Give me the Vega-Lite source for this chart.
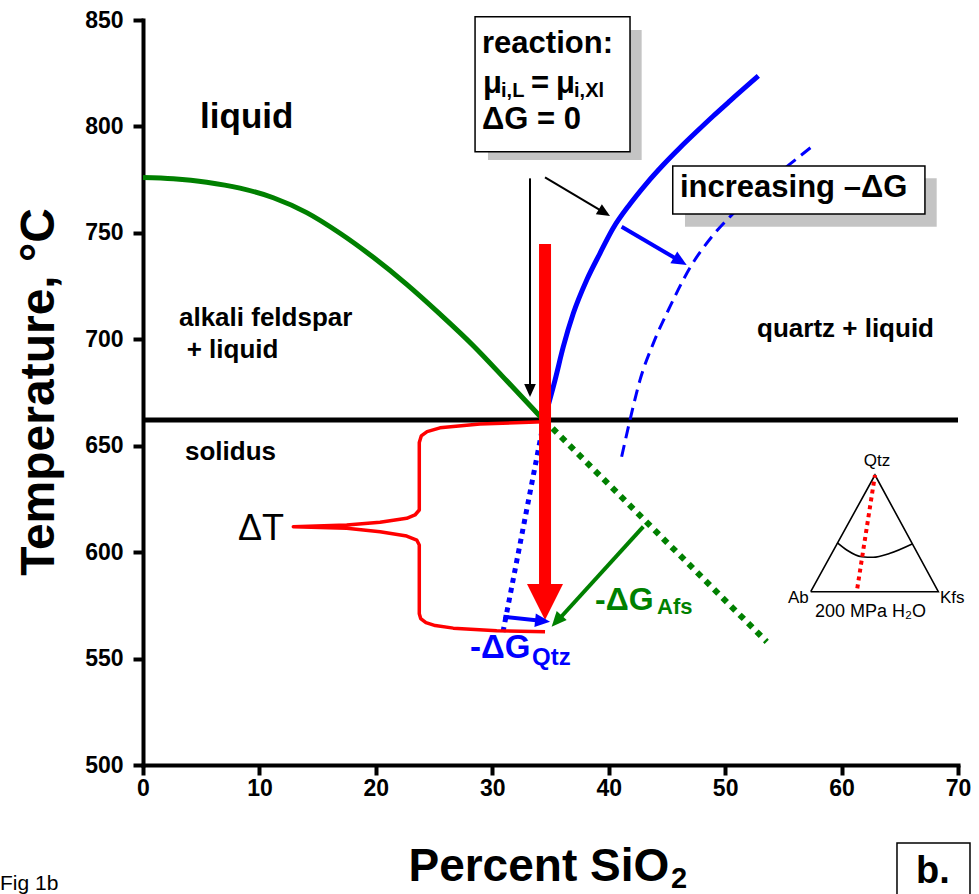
{
  "$schema": "https://vega.github.io/schema/vega-lite/v6.json",
  "width": 815,
  "height": 745,
  "autosize": {"type": "none"},
  "padding": {"left": 143, "top": 20, "right": 21, "bottom": 129},
  "background": "white",
  "config": {"view": {"stroke": null}, "font": "Liberation Sans"},
  "datasets": {
    "solidus": [{"x": 0, "y": 662.08, "x2": 70, "y2": 662.08}],
    "liquidusAfs": [
      {"x": 0, "y": 776.0}, {"x": 2.6, "y": 775.4}, {"x": 5.47, "y": 773.8}, {"x": 8.33, "y": 771.0},
      {"x": 11.19, "y": 766.5}, {"x": 14.06, "y": 759.5}, {"x": 16.92, "y": 749.8}, {"x": 19.78, "y": 738.5},
      {"x": 22.65, "y": 725.8}, {"x": 25.51, "y": 711.8}, {"x": 28.37, "y": 697.0}, {"x": 31.24, "y": 680.5},
      {"x": 34.4, "y": 662.1}
    ],
    "afsDotted": [{"x": 34.45, "y": 662.1}, {"x": 53.57, "y": 557.9}],
    "liquidusQtz": [
      {"x": 34.45, "y": 662.08}, {"x": 35.39, "y": 680.87}, {"x": 36.1, "y": 696.51}, {"x": 36.96, "y": 712.2},
      {"x": 38.11, "y": 727.85}, {"x": 39.25, "y": 740.39}, {"x": 40.39, "y": 752.28}, {"x": 41.83, "y": 763.56},
      {"x": 43.26, "y": 773.3}, {"x": 44.69, "y": 782.0}, {"x": 46.12, "y": 790.0}, {"x": 47.56, "y": 797.6},
      {"x": 48.98, "y": 804.9}, {"x": 50.42, "y": 812.0}, {"x": 52.85, "y": 823.7}
    ],
    "qtzDashed": [
      {"x": 41.11, "y": 644.8}, {"x": 41.83, "y": 662.1}, {"x": 42.69, "y": 680.9}, {"x": 43.83, "y": 698.1},
      {"x": 45.26, "y": 715.3}, {"x": 46.98, "y": 733.6}, {"x": 48.87, "y": 748.3}, {"x": 50.42, "y": 757.6},
      {"x": 52.99, "y": 770.4}, {"x": 55.48, "y": 781.9}, {"x": 57.52, "y": 790.8}
    ],
    "qtzDotted": [{"x": 34.45, "y": 662.1}, {"x": 30.92, "y": 562.5}],
    "brace": [
      {"i": 1, "x": 34.38, "y": 661.28}, {"i": 2, "x": 28.94, "y": 660.2}, {"i": 3, "x": 25.51, "y": 658.4},
      {"i": 4, "x": 24.4, "y": 656.6}, {"i": 5, "x": 23.9, "y": 654.6}, {"i": 6, "x": 23.73, "y": 651.5}, {"i": 7, "x": 23.73, "y": 619.8},
      {"i": 8, "x": 23.36, "y": 617.45}, {"i": 9, "x": 22.65, "y": 615.9}, {"i": 10, "x": 20.36, "y": 614.02},
      {"i": 11, "x": 17.5, "y": 612.75}, {"i": 12, "x": 12.91, "y": 611.95}, {"i": 13, "x": 17.5, "y": 611.2},
      {"i": 14, "x": 20.36, "y": 609.6}, {"i": 15, "x": 22.65, "y": 607.58}, {"i": 16, "x": 23.51, "y": 605.7},
      {"i": 17, "x": 23.73, "y": 603.35}, {"i": 18, "x": 23.73, "y": 571.0}, {"i": 19, "x": 23.85, "y": 568.8},
      {"i": 20, "x": 24.3, "y": 566.9}, {"i": 21, "x": 25.1, "y": 565.5}, {"i": 22, "x": 26.65, "y": 564.3}, {"i": 23, "x": 30.38, "y": 563.09},
      {"i": 24, "x": 34.53, "y": 562.62}
    ],
    "redShaft": [{"x": 34.53, "y": 744.8, "x2": 34.53, "y2": 583.0}],
    "redHead": [{"x": 34.53, "y": 568.1}],
    "blackShafts": [
      {"x": 33.24, "y": 775.6, "x2": 33.24, "y2": 675.7},
      {"x": 34.53, "y": 776.1, "x2": 39.66, "y2": 759.4}
    ],
    "blackHeadDown": [{"x": 33.24, "y": 672.9}],
    "blackHeadDiag": [{"x": 40.11, "y": 757.9}],
    "blueShafts": [
      {"x": 41.11, "y": 752.9, "x2": 46.18, "y2": 736.6},
      {"x": 30.95, "y": 569.7, "x2": 34.36, "y2": 567.65}
    ],
    "blueHeadDiag": [{"x": 46.7, "y": 734.9}],
    "blueHeadSmall": [{"x": 34.96, "y": 567.3}],
    "greenShaft": [{"x": 42.97, "y": 611.95, "x2": 35.53, "y2": 567.3}],
    "greenHead": [{"x": 35.1, "y": 565.0}],
    "triangle": [
      {"i": 0, "x": 57.35, "y": 581.42}, {"i": 1, "x": 62.87, "y": 636.24},
      {"i": 2, "x": 68.31, "y": 581.42}, {"i": 3, "x": 57.35, "y": 581.42}
    ],
    "cotectic": [
      {"x": 59.62, "y": 604.44}, {"x": 60.44, "y": 601.0}, {"x": 61.73, "y": 597.86},
      {"x": 62.72, "y": 597.58}, {"x": 64.16, "y": 599.46}, {"x": 66.06, "y": 603.83}
    ],
    "insetRed": [{"x": 62.87, "y": 636.24}, {"x": 61.35, "y": 583.0}],
    "shadows": [
      {"x": 29.63, "x2": 42.83, "y": 845.3, "y2": 784.2},
      {"x": 46.55, "x2": 68.17, "y": 775.6, "y2": 752.9}
    ],
    "boxes": [
      {"x": 28.52, "x2": 41.83, "y": 851.5, "y2": 788.1},
      {"x": 45.5, "x2": 67.16, "y": 781.4, "y2": 758.9},
      {"x": 64.76, "x2": 71.03, "y": 463.4, "y2": 437.9}
    ],
    "labels26": [
      {"x": 3.09, "y": 706.2, "t": "alkali feldspar"},
      {"x": 3.75, "y": 691.07, "t": "+ liquid"},
      {"x": 3.61, "y": 643.29, "t": "solidus"},
      {"x": 52.74, "y": 701.21, "t": "quartz + liquid"}
    ],
    "labelLiquid": [{"x": 4.9, "y": 799.26, "t": "liquid"}],
    "labelDT": [{"x": 8.16, "y": 605.7, "t": "ΔT"}],
    "labelsBox": [
      {"x": 29.12, "y": 834.49, "t": "reaction:"},
      {"x": 29.2, "y": 815.7, "t": "μ"},
      {"x": 33.32, "y": 815.7, "t": "="},
      {"x": 35.47, "y": 815.7, "t": "μ"},
      {"x": 29.12, "y": 798.79, "t": "ΔG = 0"},
      {"x": 46.12, "y": 766.7, "t": "increasing –ΔG"}
    ],
    "labelsSub": [
      {"x": 30.75, "y": 813.82, "t": "i,L"},
      {"x": 37.02, "y": 813.82, "t": "i,Xl"}
    ],
    "blueDG": [{"x": 28.09, "y": 550.13, "t": "-ΔG"}],
    "blueSub": [{"x": 33.41, "y": 546.98, "t": "Qtz"}],
    "greenDG": [{"x": 38.82, "y": 572.82, "t": "-ΔG"}],
    "greenSub": [{"x": 44.15, "y": 570.94, "t": "Afs"}],
    "insetCenter": [{"x": 63.04, "y": 640.47, "t": "Qtz"}],
    "insetLeft": [
      {"x": 55.4, "y": 576.11, "t": "Ab"},
      {"x": 68.45, "y": 576.11, "t": "Kfs"}
    ],
    "insetPressure": [{"x": 57.72, "y": 569.53, "t": "200 MPa H₂O"}],
    "panel": [{"x": 67.85, "y": 444.56, "t": "b."}],
    "fig": [{"x": -12.28, "y": 441.3, "t": "Fig 1b"}],
    "xTitle": [{"x": 22.8, "y": 445.5, "t": "Percent SiO"}],
    "xTitleSub": [{"x": 45.35, "y": 442.2, "t": "2"}],
    "yTitle": [{"x": -8.85, "y": 675.23, "t": "Temperature, °C"}]
  },
  "encoding": {
    "x": {
      "field": "x", "type": "quantitative",
      "scale": {"domain": [0, 70], "nice": false, "zero": false},
      "axis": {
        "title": null, "values": [0, 10, 20, 30, 40, 50, 60, 70], "grid": false,
        "domainColor": "black", "domainWidth": 4, "domainCap": "square",
        "tickColor": "black", "tickWidth": 4, "tickSize": 10,
        "labelFont": "Liberation Sans", "labelFontSize": 23, "labelFontWeight": "bold",
        "labelColor": "black", "labelPadding": 2, "labelFlush": false
      }
    },
    "y": {
      "field": "y", "type": "quantitative",
      "scale": {"domain": [500, 850], "nice": false, "zero": false},
      "axis": {
        "title": null, "values": [500, 550, 600, 650, 700, 750, 800, 850], "grid": false,
        "domainColor": "black", "domainWidth": 4, "domainCap": "square",
        "tickColor": "black", "tickWidth": 4, "tickSize": 10,
        "labelFont": "Liberation Sans", "labelFontSize": 23, "labelFontWeight": "bold",
        "labelColor": "black", "labelPadding": 10, "labelFlush": false
      }
    }
  },
  "layer": [
    {"data": {"name": "shadows"}, "mark": {"type": "rect", "fill": "#c4c4c4"},
     "encoding": {"x2": {"field": "x2"}, "y2": {"field": "y2"}}},
    {"data": {"name": "solidus"}, "mark": {"type": "rule", "color": "black", "strokeWidth": 5},
     "encoding": {"x2": {"field": "x2"}, "y2": {"field": "y2"}}},
    {"data": {"name": "liquidusAfs"}, "mark": {"type": "line", "color": "#008000", "strokeWidth": 5, "interpolate": "monotone"}, "encoding": {}},
    {"data": {"name": "afsDotted"}, "mark": {"type": "line", "color": "#008000", "strokeWidth": 6, "strokeDash": [6, 6]}, "encoding": {}},
    {"data": {"name": "liquidusQtz"}, "mark": {"type": "line", "color": "#0000ff", "strokeWidth": 5, "interpolate": "monotone"}, "encoding": {}},
    {"data": {"name": "qtzDashed"}, "mark": {"type": "line", "color": "#0000ff", "strokeWidth": 3, "strokeDash": [12, 7], "interpolate": "monotone"}, "encoding": {}},
    {"data": {"name": "qtzDotted"}, "mark": {"type": "line", "color": "#0000ff", "strokeWidth": 5, "strokeDash": [5, 5]}, "encoding": {}},
    {"data": {"name": "brace"}, "mark": {"type": "line", "color": "#ff0000", "strokeWidth": 3.5, "strokeJoin": "round"},
     "encoding": {"order": {"field": "i", "type": "quantitative"}}},
    {"data": {"name": "redShaft"}, "mark": {"type": "rule", "color": "#ff0000", "strokeWidth": 12},
     "encoding": {"x2": {"field": "x2"}, "y2": {"field": "y2"}}},
    {"data": {"name": "redHead"}, "mark": {"type": "point", "shape": "M0,0L-0.5,1L0.5,1Z", "filled": true, "color": "#ff0000", "opacity": 1, "size": 5184, "angle": 180, "strokeWidth": 0}, "encoding": {}},
    {"data": {"name": "blackShafts"}, "mark": {"type": "rule", "color": "black", "strokeWidth": 2},
     "encoding": {"x2": {"field": "x2"}, "y2": {"field": "y2"}}},
    {"data": {"name": "blackHeadDown"}, "mark": {"type": "point", "shape": "M0,0L-0.45,1L0.45,1Z", "filled": true, "color": "black", "opacity": 1, "size": 676, "angle": 180, "strokeWidth": 0}, "encoding": {}},
    {"data": {"name": "blackHeadDiag"}, "mark": {"type": "point", "shape": "M0,0L-0.45,1L0.45,1Z", "filled": true, "color": "black", "opacity": 1, "size": 676, "angle": 121, "strokeWidth": 0}, "encoding": {}},
    {"data": {"name": "blueShafts"}, "mark": {"type": "rule", "color": "#0000ff", "strokeWidth": 4},
     "encoding": {"x2": {"field": "x2"}, "y2": {"field": "y2"}}},
    {"data": {"name": "blueHeadDiag"}, "mark": {"type": "point", "shape": "M0,0L-0.45,1L0.45,1Z", "filled": true, "color": "#0000ff", "opacity": 1, "size": 900, "angle": 120.5, "strokeWidth": 0}, "encoding": {}},
    {"data": {"name": "blueHeadSmall"}, "mark": {"type": "point", "shape": "M0,0L-0.45,1L0.45,1Z", "filled": true, "color": "#0000ff", "opacity": 1, "size": 900, "angle": 96, "strokeWidth": 0}, "encoding": {}},
    {"data": {"name": "greenShaft"}, "mark": {"type": "rule", "color": "#008000", "strokeWidth": 4},
     "encoding": {"x2": {"field": "x2"}, "y2": {"field": "y2"}}},
    {"data": {"name": "greenHead"}, "mark": {"type": "point", "shape": "M0,0L-0.45,1L0.45,1Z", "filled": true, "color": "#008000", "opacity": 1, "size": 900, "angle": 222, "strokeWidth": 0}, "encoding": {}},
    {"data": {"name": "triangle"}, "mark": {"type": "line", "color": "black", "strokeWidth": 1.6, "strokeJoin": "miter"},
     "encoding": {"order": {"field": "i", "type": "quantitative"}}},
    {"data": {"name": "cotectic"}, "mark": {"type": "line", "color": "black", "strokeWidth": 1.6, "interpolate": "monotone"}, "encoding": {}},
    {"data": {"name": "insetRed"}, "mark": {"type": "line", "color": "#ff0000", "strokeWidth": 4, "strokeDash": [4, 4]}, "encoding": {}},
    {"data": {"name": "boxes"}, "mark": {"type": "rect", "fill": "white", "stroke": "black", "strokeWidth": 1.5},
     "encoding": {"x2": {"field": "x2"}, "y2": {"field": "y2"}}},
    {"data": {"name": "labels26"}, "mark": {"type": "text", "align": "left", "baseline": "alphabetic", "font": "Liberation Sans", "fontSize": 26, "fontWeight": "bold", "color": "black"},
     "encoding": {"text": {"field": "t"}}},
    {"data": {"name": "labelLiquid"}, "mark": {"type": "text", "align": "left", "baseline": "alphabetic", "font": "Liberation Sans", "fontSize": 35, "fontWeight": "bold", "color": "black"},
     "encoding": {"text": {"field": "t"}}},
    {"data": {"name": "labelDT"}, "mark": {"type": "text", "align": "left", "baseline": "alphabetic", "font": "Liberation Sans", "fontSize": 36, "color": "black"},
     "encoding": {"text": {"field": "t"}}},
    {"data": {"name": "labelsBox"}, "mark": {"type": "text", "align": "left", "baseline": "alphabetic", "font": "Liberation Sans", "fontSize": 31, "fontWeight": "bold", "color": "black"},
     "encoding": {"text": {"field": "t"}}},
    {"data": {"name": "labelsSub"}, "mark": {"type": "text", "align": "left", "baseline": "alphabetic", "font": "Liberation Sans", "fontSize": 20, "fontWeight": "bold", "color": "black"},
     "encoding": {"text": {"field": "t"}}},
    {"data": {"name": "blueDG"}, "mark": {"type": "text", "align": "left", "baseline": "alphabetic", "font": "Liberation Sans", "fontSize": 33, "fontWeight": "bold", "color": "#0000ff"},
     "encoding": {"text": {"field": "t"}}},
    {"data": {"name": "blueSub"}, "mark": {"type": "text", "align": "left", "baseline": "alphabetic", "font": "Liberation Sans", "fontSize": 24, "fontWeight": "bold", "color": "#0000ff"},
     "encoding": {"text": {"field": "t"}}},
    {"data": {"name": "greenDG"}, "mark": {"type": "text", "align": "left", "baseline": "alphabetic", "font": "Liberation Sans", "fontSize": 32, "fontWeight": "bold", "color": "#008000"},
     "encoding": {"text": {"field": "t"}}},
    {"data": {"name": "greenSub"}, "mark": {"type": "text", "align": "left", "baseline": "alphabetic", "font": "Liberation Sans", "fontSize": 22, "fontWeight": "bold", "color": "#008000"},
     "encoding": {"text": {"field": "t"}}},
    {"data": {"name": "insetCenter"}, "mark": {"type": "text", "align": "center", "baseline": "alphabetic", "font": "Liberation Sans", "fontSize": 17, "color": "black"},
     "encoding": {"text": {"field": "t"}}},
    {"data": {"name": "insetLeft"}, "mark": {"type": "text", "align": "left", "baseline": "alphabetic", "font": "Liberation Sans", "fontSize": 17, "color": "black"},
     "encoding": {"text": {"field": "t"}}},
    {"data": {"name": "insetPressure"}, "mark": {"type": "text", "align": "left", "baseline": "alphabetic", "font": "Liberation Sans", "fontSize": 18, "color": "black"},
     "encoding": {"text": {"field": "t"}}},
    {"data": {"name": "panel"}, "mark": {"type": "text", "align": "center", "baseline": "alphabetic", "font": "Liberation Sans", "fontSize": 38, "fontWeight": "bold", "color": "black"},
     "encoding": {"text": {"field": "t"}}},
    {"data": {"name": "fig"}, "mark": {"type": "text", "align": "left", "baseline": "alphabetic", "font": "Liberation Sans", "fontSize": 21, "color": "black"},
     "encoding": {"text": {"field": "t"}}},
    {"data": {"name": "xTitle"}, "mark": {"type": "text", "align": "left", "baseline": "alphabetic", "font": "Liberation Sans", "fontSize": 46, "fontWeight": "bold", "color": "black"},
     "encoding": {"text": {"field": "t"}}},
    {"data": {"name": "xTitleSub"}, "mark": {"type": "text", "align": "left", "baseline": "alphabetic", "font": "Liberation Sans", "fontSize": 29, "fontWeight": "bold", "color": "black"},
     "encoding": {"text": {"field": "t"}}},
    {"data": {"name": "yTitle"}, "mark": {"type": "text", "align": "center", "baseline": "middle", "angle": 270, "font": "Liberation Sans", "fontSize": 48, "fontWeight": "bold", "color": "black"},
     "encoding": {"text": {"field": "t"}}}
  ]
}
